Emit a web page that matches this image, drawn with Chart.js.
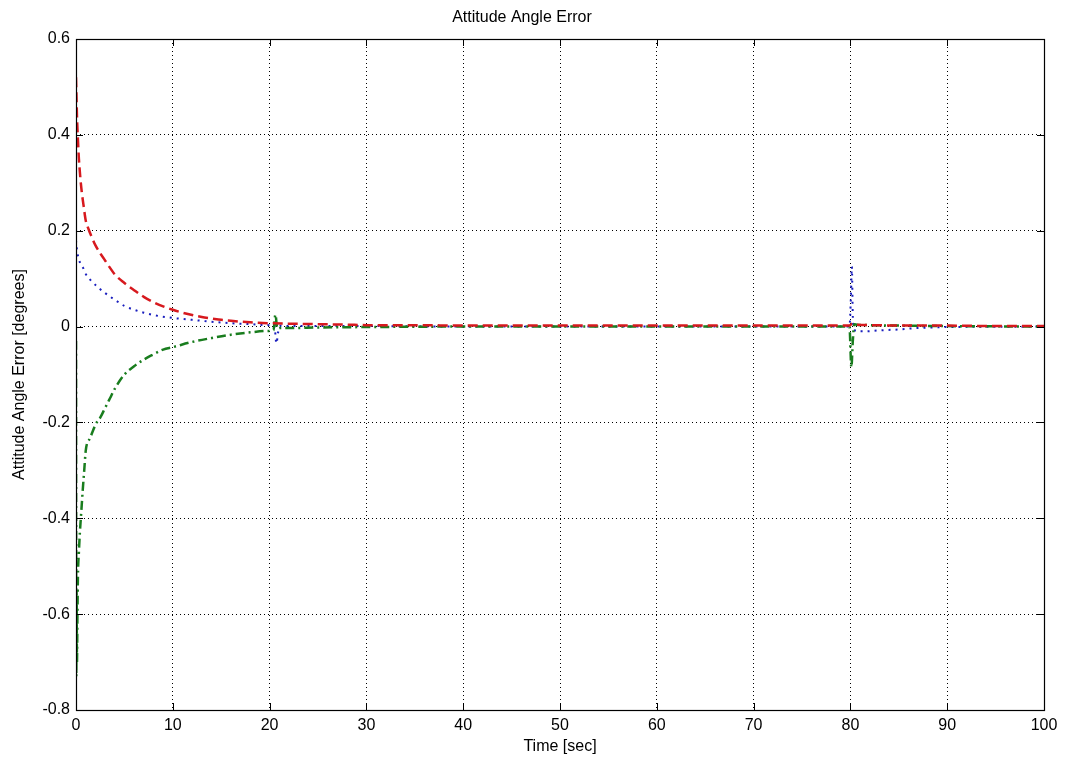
<!DOCTYPE html>
<html>
<head>
<meta charset="utf-8">
<script src="https://cdn.jsdelivr.net/npm/chart.js@4.4.0/dist/chart.umd.min.js"></script>
<style>
  html, body { margin: 0; padding: 0; background: #fff; }
  #wrap { width: 1065px; height: 762px; }
</style>
</head>
<body>
<div id="wrap"><canvas id="c" width="1065" height="762"></canvas></div>
<script>
// ---- data ----
const chartTitle = 'Attitude Angle Error';
const xAxisTitle = 'Time [sec]';
const yAxisTitle = 'Attitude Angle Error [degrees]';

const xTickLabels = ['0','10','20','30','40','50','60','70','80','90','100'];
const yTickLabels = ['-0.8','-0.6','-0.4','-0.2','0','0.2','0.4','0.6'];

const tRed = [0,0.05,0.1,0.2,0.3,0.45,0.6,0.8,1,1.3,1.6,2,2.5,3,3.5,4,5,6,7,8,9,10,11,12,13,14,15,16,18,20,22,25,28,30,35,40,50,60,70,79.9,80.2,80.5,82,85,90,95,100];
const redErr = [0.52,0.48,0.44,0.39,0.35,0.31,0.28,0.25,0.222,0.203,0.188,0.17,0.153,0.138,0.123,0.109,0.091,0.076,0.062,0.051,0.042,0.035,0.029,0.024,0.02,0.017,0.014,0.012,0.009,0.007,0.006,0.005,0.004,0.003,0.003,0.002,0.002,0.002,0.002,0.002,0.006,0.004,0.003,0.002,0.002,0.001,0.001];

const tBlue = [0,0.1,0.3,0.5,0.8,1,1.5,2,2.5,3,4,5,6,7,8,10,12,14,16,18,20,20.5,20.7,20.9,21.2,22,25,30,40,60,79.9,80.05,80.15,80.25,80.4,80.7,81.5,83,85,87,90,100];
const blueErr = [0.18,0.16,0.14,0.13,0.12,0.11,0.097,0.087,0.078,0.07,0.056,0.043,0.035,0.029,0.024,0.018,0.014,0.01,0.007,0.005,0.003,0.002,-0.035,-0.01,0.002,0.001,0.001,0.001,0,0,0,0.06,0.125,0.02,-0.006,-0.01,-0.01,-0.008,-0.006,-0.003,-0.001,0];

const tGreen = [0,0.03,0.06,0.1,0.15,0.2,0.3,0.4,0.5,0.6,0.7,0.85,1,1.2,1.4,1.7,2,2.5,3,3.5,4,5,6,7,8,9,10,12,14,16,18,20,20.4,20.6,20.8,21.1,22,25,30,40,60,79.9,80.1,80.25,80.4,80.7,82,85,90,100];
const greenErr = [-0.03,-0.73,-0.55,-0.7,-0.6,-0.52,-0.47,-0.43,-0.4,-0.37,-0.34,-0.3,-0.26,-0.24,-0.235,-0.22,-0.205,-0.19,-0.17,-0.15,-0.13,-0.1,-0.083,-0.069,-0.058,-0.048,-0.043,-0.032,-0.024,-0.017,-0.012,-0.009,-0.008,0.025,-0.004,-0.003,-0.003,-0.002,-0.001,0,0,0,-0.085,-0.03,0.005,0.004,0.003,0.002,0.001,0];

const toXY = (ts, vs) => ts.map((t, i) => ({ x: t, y: vs[i] }));

// box + inward ticks, MATLAB style
const boxPlugin = {
  id: 'boxPlugin',
  afterDatasetsDraw(chart) {
    const { ctx, chartArea: a, scales: { x, y } } = chart;
    ctx.save();
    ctx.strokeStyle = '#000';
    ctx.lineWidth = 1;
    ctx.setLineDash([]);
    ctx.beginPath();
    x.ticks.forEach(t => {
      const px = Math.round(x.getPixelForValue(t.value)) + 0.5;
      ctx.moveTo(px, a.bottom); ctx.lineTo(px, a.bottom - 7);
      ctx.moveTo(px, a.top); ctx.lineTo(px, a.top + 7);
    });
    y.ticks.forEach(t => {
      const py = Math.round(y.getPixelForValue(t.value)) + 0.5;
      ctx.moveTo(a.left, py); ctx.lineTo(a.left + 7, py);
      ctx.moveTo(a.right, py); ctx.lineTo(a.right - 7, py);
    });
    ctx.stroke();
    ctx.lineWidth = 1.2;
    ctx.strokeRect(Math.round(a.left) + 0.5, Math.round(a.top) + 0.5,
                   Math.round(a.right - a.left), Math.round(a.bottom - a.top));
    ctx.restore();
  }
};

const font = 'Liberation Sans, Arial, Helvetica, sans-serif';

new Chart(document.getElementById('c'), {
  type: 'line',
  data: {
    datasets: [
      { label: 'red', data: toXY(tRed, redErr), borderColor: 'rgb(215,25,30)', borderWidth: 2.5,
        borderDash: [10, 5], pointRadius: 0, fill: false, cubicInterpolationMode: 'monotone' },
      { label: 'green', data: toXY(tGreen, greenErr), borderColor: 'rgb(25,125,30)', borderWidth: 2.5,
        borderDash: [9, 4, 2, 4], pointRadius: 0, fill: false, cubicInterpolationMode: 'monotone' },
      { label: 'blue', data: toXY(tBlue, blueErr), borderColor: 'rgb(25,30,190)', borderWidth: 2,
        borderDash: [2, 5], pointRadius: 0, fill: false, cubicInterpolationMode: 'monotone' }
    ]
  },
  options: {
    responsive: false,
    animation: false,
    events: [],
    layout: { padding: { left: 0, right: 21, top: 0, bottom: 0 } },
    plugins: {
      legend: { display: false },
      tooltip: { enabled: false },
      title: {
        display: true, text: chartTitle, color: '#000',
        font: { family: font, size: 16, weight: 'normal', lineHeight: 1 },
        padding: { top: 10, bottom: 13 }
      }
    },
    scales: {
      x: {
        type: 'linear', min: 0, max: 100,
        afterFit: s => { s.height = 52; },
        ticks: { stepSize: 10, color: '#000', padding: 6, maxRotation: 0,
                 font: { family: font, size: 16 },
                 callback: (v, i) => xTickLabels[i] },
        grid: { color: '#000', lineWidth: 1, drawTicks: false },
        border: { display: false, dash: [1, 3] },
        title: { display: true, text: xAxisTitle, color: '#000',
                 font: { family: font, size: 16 }, padding: { top: 0, bottom: 6 } }
      },
      y: {
        type: 'linear', min: -0.8, max: 0.6,
        afterFit: s => { s.width = 76; },
        ticks: { stepSize: 0.2, color: '#000', padding: 6,
                 font: { family: font, size: 16 },
                 callback: (v, i) => yTickLabels[i] },
        grid: { color: '#000', lineWidth: 1, drawTicks: false },
        border: { display: false, dash: [1, 3] },
        title: { display: true, text: yAxisTitle, color: '#000',
                 font: { family: font, size: 16 }, padding: { top: 10, bottom: 0 } }
      }
    }
  },
  plugins: [boxPlugin]
});
</script>
</body>
</html>
